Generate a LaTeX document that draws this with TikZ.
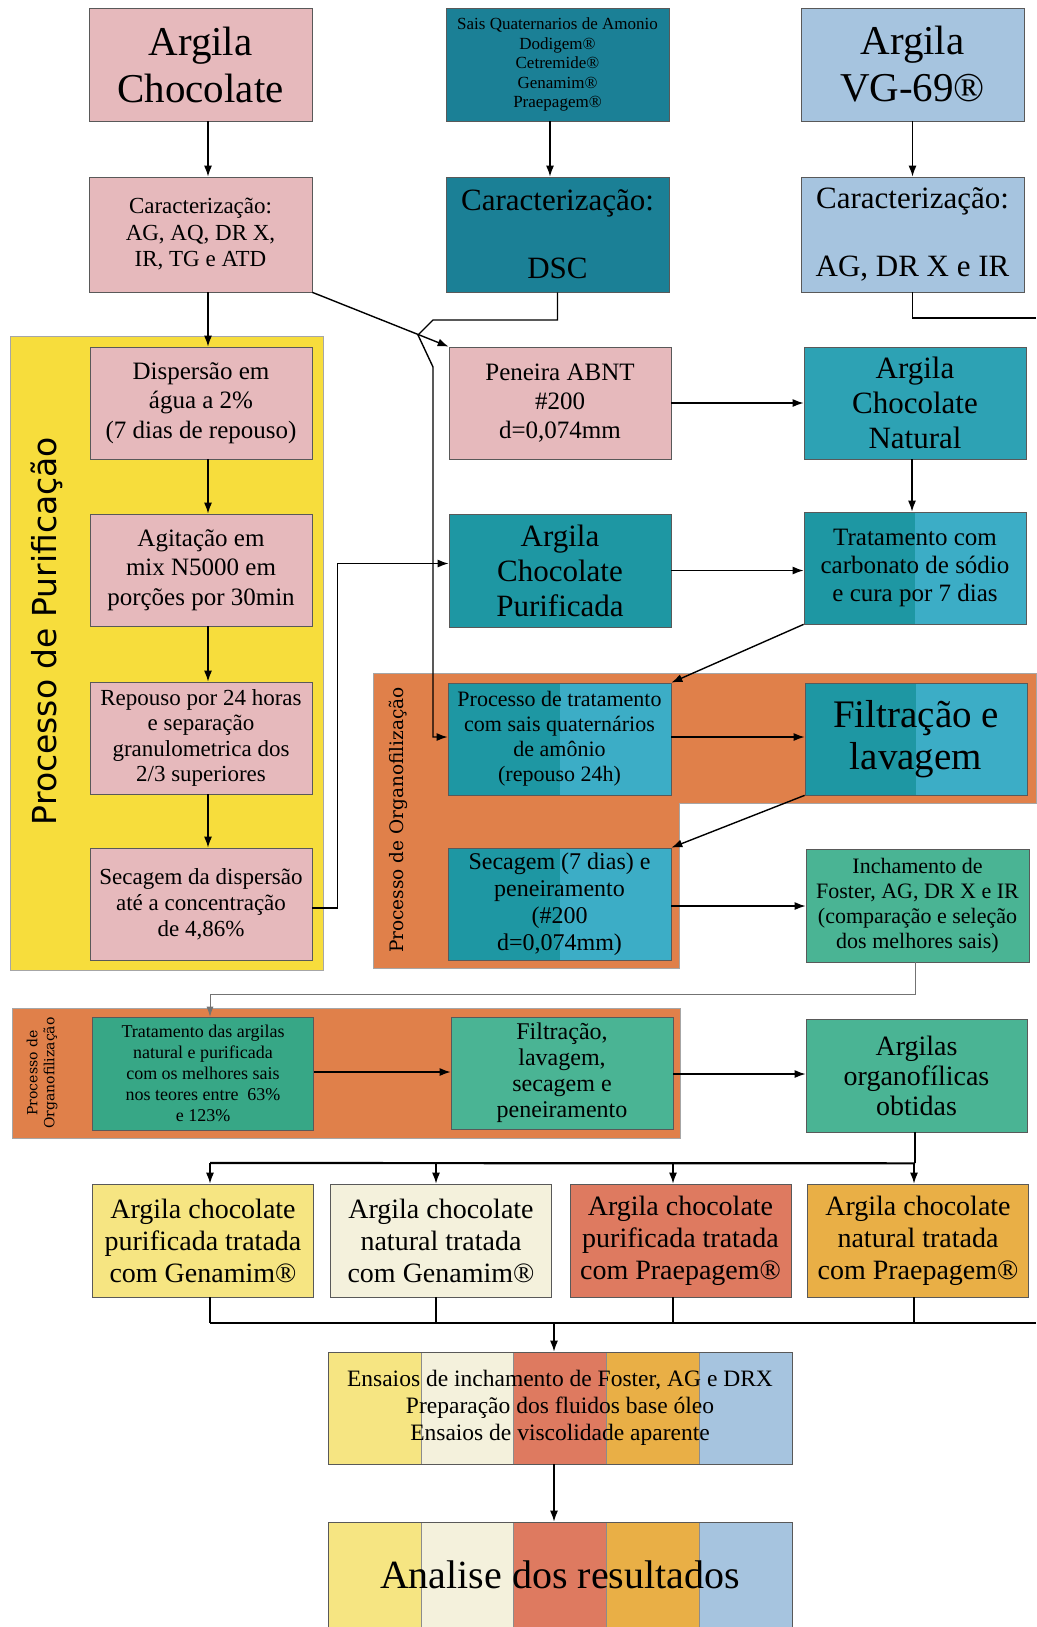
\documentclass[tikz,border=0pt]{standalone}
\usepackage{fontspec}
\setmainfont{Liberation Serif}
\newfontfamily\sansproc{DejaVu Sans}
\newfontfamily\serifproc{DejaVu Serif}
\usetikzlibrary{arrows.meta}

\definecolor{rosa}{RGB}{230,185,188}
\definecolor{petroleo}{RGB}{27,128,150}
\definecolor{azulclaro}{RGB}{166,196,223}
\definecolor{amarelo}{RGB}{247,221,60}
\definecolor{laranja}{RGB}{224,128,74}
\definecolor{turq}{RGB}{45,162,180}
\definecolor{turqesc}{RGB}{30,151,163}
\definecolor{turqcla}{RGB}{60,173,198}
\definecolor{verdemar}{RGB}{74,180,148}
\definecolor{verdeesc}{RGB}{55,167,134}
\definecolor{gema}{RGB}{246,229,130}
\definecolor{creme}{RGB}{244,241,220}
\definecolor{salmao}{RGB}{222,122,96}
\definecolor{ocre}{RGB}{233,175,70}

\newcommand{\tam}[2]{\fontsize{#1}{#2}\selectfont}

\begin{document}
\begin{tikzpicture}[x=1pt, y=-1pt,
    caixa/.style={draw=black!65, line width=0.7pt, minimum width=222pt, minimum height=112pt, align=center, inner sep=0pt},
    duas/.style={caixa, fill=turqesc, path picture={\fill[turqcla] (path picture bounding box.north) rectangle (path picture bounding box.south east);}},
    seta/.style={-{Latex[length=11pt,width=8pt]}, line width=1.4pt},
    linha/.style={line width=1.4pt}]

    \useasboundingbox (0,0) rectangle (1036,1627);

    % fundos
    \filldraw[fill=amarelo, draw=black!35, line width=0.6pt] (10,336) rectangle (323,970);
    \filldraw[fill=laranja, draw=black!35, line width=0.6pt] (373,673) -- (1036,673) -- (1036,803) -- (679,803) -- (679,968) -- (373,968) -- cycle;
    \filldraw[fill=laranja, draw=black!35, line width=0.6pt] (12,1008) rectangle (680,1138);
    \foreach \c [count=\i from 0] in {gema,creme,salmao,ocre,azulclaro} {
        \filldraw[fill=\c, draw=black!45, line width=0.5pt] (328+92.8*\i,1352) rectangle +(92.8,112);
        \filldraw[fill=\c, draw=black!45, line width=0.5pt] (328+92.8*\i,1522) rectangle +(92.8,105);
    }

    \node[rotate=90, font=\sansproc\tam{33}{38}] (purif) at (47,631) {Processo de Purificação};
    \node[rotate=90, font=\serifproc\tam{18.5}{22}] (organo) at (398,820) {Processo de Organofilização};
    \node[rotate=90, align=center, font=\serifproc\tam{14}{17}] (organob) at (42,1073) {Processo de\\Organofilização};

    % linha de cima
    \node[caixa, fill=rosa, minimum width=223pt, minimum height=113pt, font=\tam{41}{47}] (argch) at (200.5,64.5) {Argila\\Chocolate};
    \node[caixa, fill=petroleo, minimum width=223pt, minimum height=113pt, font=\tam{17}{19.5}] (sais) at (557.5,64.5) {Sais Quaternarios de Amonio\\Dodigem®\\Cetremide®\\Genamim®\\Praepagem®};
    \node[caixa, fill=azulclaro, minimum width=223pt, minimum height=113pt, font=\tam{41}{47}] (vg) at (912.5,64.5) {Argila\\VG-69®};

    \node[caixa, fill=rosa, minimum width=223pt, minimum height=115pt, font=\tam{23}{26.5}] (carac) at (200.5,234.5) {Caracterização:\\AG, AQ, DR X,\\IR, TG e ATD};
    \node[caixa, fill=petroleo, minimum width=223pt, minimum height=115pt, font=\tam{31}{35}] (dsc) at (557.5,234.5) {Caracterização:\\[33pt]DSC};
    \node[caixa, fill=azulclaro, minimum width=223pt, minimum height=115pt, font=\tam{31}{35}] (caracvg) at (912.5,234.5) {Caracterização:\\[33pt]AG, DR X e IR};

    % purificacao
    \node[caixa, fill=rosa, font=\tam{25}{29.5}] (disp) at (201,403) {Dispersão em\\água a 2\%\\(7 dias de repouso)};
    \node[caixa, fill=rosa, font=\tam{25}{29.5}] (agit) at (201,570) {Agitação em\\mix N5000 em\\porções por 30min};
    \node[caixa, fill=rosa, font=\tam{23}{25.5}] (repou) at (201,738) {Repouso por 24 horas\\e separação\\granulometrica dos\\2/3 superiores};
    \node[caixa, fill=rosa, font=\tam{23}{26}] (secag) at (201,904) {Secagem da dispersão\\até a concentração\\de 4,86\%};

    \node[caixa, fill=rosa, font=\tam{25}{29}] (pen) at (560,403) {Peneira ABNT\\\#200\\d=0,074mm};
    \node[caixa, fill=turq, font=\tam{31}{35}] (nat) at (915,403) {Argila\\Chocolate\\Natural};
    \node[caixa, fill=turqesc, minimum height=113pt, font=\tam{31}{35}] (pur) at (560,570.5) {Argila\\Chocolate\\Purificada};
    \node[duas, font=\tam{25}{28}] (carbo) at (915,568) {Tratamento com\\carbonato de sódio\\e cura por 7 dias};

    % organofilizacao
    \node[duas, minimum width=223pt, font=\tam{22}{25}] (proc) at (559.5,739) {Processo de tratamento\\com sais quaternários\\de amônio\\(repouso 24h)};
    \node[duas, font=\tam{39}{42}] (filt) at (916,739) {Filtração e\\lavagem};
    \node[duas, minimum width=223pt, font=\tam{24}{27}] (sec7) at (559.5,904) {Secagem (7 dias) e\\peneiramento\\(\#200\\d=0,074mm)};
    \node[caixa, fill=verdemar, minimum width=223pt, minimum height=113pt, font=\tam{22}{25}] (inch) at (917.5,905.5) {Inchamento de\\Foster, AG, DR X e IR\\(comparação e seleção\\dos melhores sais)};

    \node[caixa, fill=verdeesc, minimum width=221pt, minimum height=113pt, font=\tam{18}{21}] (trarg) at (203,1073.5) {Tratamento das argilas\\natural e purificada\\com os melhores sais\\nos teores entre~ 63\%\\e 123\%};
    \node[caixa, fill=verdemar, font=\tam{24}{26}] (flav) at (562,1073) {Filtração,\\lavagem,\\secagem e\\peneiramento};
    \node[caixa, fill=verdemar, minimum width=221pt, minimum height=113pt, font=\tam{28}{30}] (aorg) at (916.5,1075.5) {Argilas\\organofílicas\\obtidas};

    % argilas tratadas
    \node[caixa, fill=gema, minimum width=221pt, minimum height=113pt, font=\tam{28}{32}] (ta) at (203,1240.5) {Argila chocolate\\purificada tratada\\com Genamim®};
    \node[caixa, fill=creme, minimum width=221pt, minimum height=113pt, font=\tam{28}{32}] (tb) at (441,1240.5) {Argila chocolate\\natural tratada\\com Genamim®};
    \node[caixa, fill=salmao, minimum width=221pt, minimum height=113pt, font=\tam{28}{32}] (tc) at (680.5,1240.5) {Argila chocolate\\purificada tratada\\com Praepagem®};
    \node[caixa, fill=ocre, minimum width=221pt, minimum height=113pt, font=\tam{28}{32}] (td) at (918,1240.5) {Argila chocolate\\natural tratada\\com Praepagem®};

    \node[draw=black!65, line width=0.7pt, minimum width=464pt, minimum height=112pt, inner sep=0pt, align=center, font=\tam{23.5}{26.7}] (ens) at (560,1408) {Ensaios de inchamento de Foster, AG e DRX\\Preparação dos fluidos base óleo\\Ensaios de viscolidade aparente};
    \node[draw=black!65, line width=0.7pt, minimum width=464pt, minimum height=105pt, inner sep=0pt, font=\tam{40}{44}] (anal) at (560,1574.5) {Analise dos resultados};

    % ligacoes
    \draw[seta] ([xshift=7.5pt]argch.south) -- ([xshift=7.5pt]carac.north);
    \draw[seta] ([xshift=-7.5pt]sais.south) -- ([xshift=-7.5pt]dsc.north);
    \draw[seta] (vg.south) -- (caracvg.north);
    \draw[seta] ([xshift=7.5pt]carac.south) -- ([xshift=7pt]disp.north);
    \draw[seta] ([xshift=7pt]disp.south) -- ([xshift=7pt]agit.north);
    \draw[seta] ([xshift=7pt]agit.south) -- ([xshift=7pt]repou.north);
    \draw[seta] ([xshift=7pt]repou.south) -- ([xshift=7pt]secag.north);
    \draw[seta] (carac.south east) -- (pen.north west);
    \draw[seta] (dsc.south) |- (433,320) -- (418,335) -- (433,367) |- ([yshift=2pt]proc.west);
    \draw[linha] (caracvg.south) |- (1036,318);
    \draw[seta] (pen.east) -- (nat.west);
    \draw[seta] ([xshift=-3pt]nat.south) -- ([xshift=-3pt]carbo.north);
    \draw[seta] (pur.east) -- (pur.east -| carbo.west);
    \draw[seta] ([yshift=-4pt]secag.east) -- ++(25,0) |- ([yshift=7pt]pur.west);
    \draw[seta] (carbo.south west) -- (proc.north east);
    \draw[seta] ([yshift=2pt]proc.east) -- ([yshift=2pt]filt.west);
    \draw[seta] (filt.south west) -- (sec7.north east);
    \draw[seta] ([yshift=-2pt]sec7.east) -- ([yshift=-2pt]sec7.east -| inch.west);
    \draw[-{Latex[length=10pt,width=7pt]}, draw=black!55, line width=0.8pt] ([xshift=-2.5pt]inch.south) -- ++(0,32) -| ([xshift=7pt]trarg.north);
    \draw[seta] ([yshift=1.5pt]trarg.east) -- ([yshift=1.5pt]trarg.east -| flav.west);
    \draw[seta] ([yshift=-1pt]flav.east) -- ([yshift=-1pt]flav.east -| aorg.west);

    \draw[linha] ([xshift=-1.5pt]aorg.south) -- ++(0,31) coordinate (hub);
    \draw[line width=2.2pt] (hub) -- (210,1163);
    \foreach \b/\d in {ta/7,tb/-5,tc/-7.5,td/-4}
        \draw[seta] ([xshift=\d pt]\b.north |- hub) -- ([xshift=\d pt]\b.north);
    \foreach \b/\d in {ta/7,tb/-5,tc/-7.5,td/-4}
        \draw[linha] ([xshift=\d pt]\b.south) -- ++(0,26);
    \draw[linha] (210,1323) -- (1036,1323);
    \draw[seta] (554,1323) -- ([xshift=-6pt]ens.north);
    \draw[seta] ([xshift=-6pt]ens.south) -- ([xshift=-6pt]anal.north);

\end{tikzpicture}
\end{document}
